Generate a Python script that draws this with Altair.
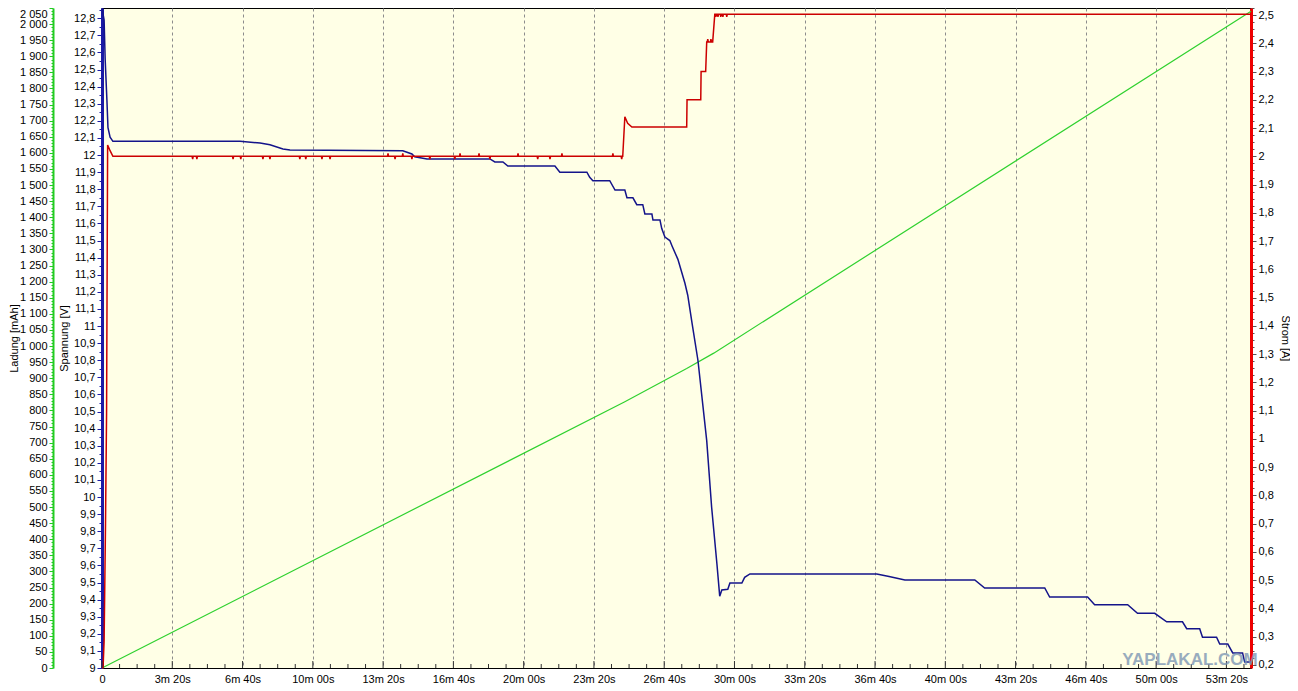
import altair as alt
import pandas as pd

FONT = "Liberation Sans"

# ---- Spannung (blue), time in seconds ----
volt_t = [0, 6, 9, 14, 17, 23, 31, 393, 450, 478, 515, 535, 856, 882, 890, 925,
          1104, 1118, 1141, 1155, 1289, 1303, 1380, 1388, 1397, 1445, 1460, 1488,
          1494, 1511, 1522, 1539, 1545, 1565, 1568, 1588, 1593, 1602, 1616, 1622,
          1639, 1659, 1667, 1679, 1696, 1721, 1735, 1750, 1758, 1764, 1781, 1787,
          1821, 1829, 1844, 2205, 2240, 2285, 2484, 2512, 2683, 2697, 2805, 2825,
          2919, 2947, 2996, 3030, 3075, 3087, 3124, 3132, 3172, 3181, 3204, 3218,
          3246, 3252, 3270]
volt_v = [12.86, 12.79, 12.56, 12.32, 12.16, 12.105, 12.08, 12.08, 12.07, 12.06,
          12.035, 12.03, 12.025, 12.006, 11.99, 11.977, 11.977, 11.96, 11.96, 11.936,
          11.936, 11.90, 11.90, 11.87, 11.85, 11.85, 11.795, 11.795, 11.75, 11.75,
          11.71, 11.71, 11.655, 11.655, 11.62, 11.62, 11.57, 11.52, 11.50, 11.47,
          11.39, 11.25, 11.18, 11.02, 10.80, 10.33, 9.94, 9.61, 9.42, 9.456, 9.46,
          9.497, 9.497, 9.53, 9.55, 9.55, 9.535, 9.515, 9.515, 9.468, 9.468, 9.415,
          9.415, 9.37, 9.37, 9.32, 9.32, 9.27, 9.27, 9.23, 9.23, 9.18, 9.18, 9.14,
          9.14, 9.088, 9.088, 9.035, 9.035]

# ---- Strom (red) ----
curr_t = [0, 3, 6, 10, 13, 16, 23, 31, 1482, 1488, 1496, 1508, 1664, 1665, 1704,
          1705, 1718, 1721, 1738, 1744, 3270]
curr_a = [0.189, 0.19, 0.284, 0.70, 1.09, 2.04, 2.02, 2.0, 2.0, 2.14, 2.117, 2.104,
          2.104, 2.20, 2.20, 2.30, 2.30, 2.405, 2.405, 2.503, 2.503]
# small noise spikes on the current trace
spike_t = [258, 270, 373, 395, 458, 478, 563, 580, 626, 649, 814, 834, 856, 882,
           933, 1004, 1019, 1073, 1104, 1184, 1240, 1275, 1309, 1454, 1479, 1724,
           1733, 1747, 1753, 1761, 1767, 1778]
spike_a = [1.99, 1.99, 1.99, 1.99, 1.99, 1.99, 1.99, 1.99, 1.99, 1.99, 2.01, 1.99,
           2.01, 1.99, 1.99, 1.99, 2.01, 2.01, 1.99, 2.01, 1.99, 1.99, 2.01, 2.01,
           1.99, 2.415, 2.415, 2.494, 2.494, 2.494, 2.494, 2.494]

# ---- Ladung (green) ----
charge_t = [0, 1488, 1664, 1741, 3270]
charge_q = [0, 827, 930, 978, 2040]

X_MAX = 3270

# ---- build tables ----
volt_df = pd.DataFrame({"t": volt_t, "v": volt_v})
charge_df = pd.DataFrame({"t": charge_t, "q": charge_q})


def base_level(t):
    lvl = curr_a[0]
    for ct, ca in zip(curr_t, curr_a):
        if ct <= t:
            lvl = ca
    return lvl


red_pts = list(zip(curr_t, curr_a))
for st, sa in zip(spike_t, spike_a):
    b = base_level(st)
    red_pts += [(st - 1.5, b), (st, sa), (st + 1.5, b)]
red_pts.sort()
curr_df = pd.DataFrame(red_pts, columns=["t", "a"])

x_major = list(range(0, X_MAX, 200))
x_minor = [t for t in range(0, X_MAX, 50) if t % 200]
tick_major_df = pd.DataFrame({"t": x_major})
tick_minor_df = pd.DataFrame({"t": x_minor})

lad_values = list(range(0, 2051, 10))
sp_values = [round(9 + 0.05 * i, 2) for i in range(0, 78)]
st_values = [round(0.2 + 0.025 * i, 3) for i in range(0, 94)]

xscale = alt.Scale(domain=[0, X_MAX], nice=False, zero=False)
xaxis = alt.Axis(
    values=x_major, title=None, ticks=False, grid=True, gridDash=[3, 3],
    gridColor="#8c8c8c", gridWidth=1, domainColor="black", domainWidth=1,
    labelExpr=("datum.value == 0 ? '0' : floor(datum.value/60) + 'm ' + "
               "(datum.value % 60 < 10 ? '0' : '') + (datum.value % 60) + 's'"),
    labelFont=FONT, labelFontSize=11, labelColor="black", labelPadding=5,
    labelFlush=False, labelOverlap=False,
)
X = alt.X("t:Q", scale=xscale, axis=xaxis)

lad_major = "datum.value % 50 === 0"
dec_major = "abs(datum.value*10 - round(datum.value*10)) < 0.001"

common = dict(labelFont=FONT, labelFontSize=11, labelColor="black",
              titleFont=FONT, titleFontSize=11, titleFontWeight="normal",
              titleColor="black", titleBaseline="middle", labelOverlap=False,
              labelFlush=False, grid=False)

lad_axis = alt.Axis(
    orient="left", offset=49, values=lad_values, title="Ladung [mAh]",
    titleX=-39, domainColor="#22cc22", domainWidth=2, tickColor="#22cc22",
    tickSize={"condition": {"test": lad_major, "value": 4}, "value": 2},
    labelBaseline={"condition": {"test": "datum.value >= 2050", "value": "top"},
                   "value": "middle"},
    labelExpr=f"{lad_major} ? replace(format(datum.value, ','), ',', ' ') : ''",
    labelPadding=2, **common)

sp_axis = alt.Axis(
    orient="left", offset=0, values=sp_values, title="Spannung [V]",
    titleX=-38, domainColor="#1a1aa6", domainWidth=3, tickColor="#1a1aa6",
    tickSize={"condition": {"test": dec_major, "value": 5}, "value": 3},
    labelExpr=f"{dec_major} ? replace(format(datum.value, '.1~f'), '.', ',') : ''",
    labelPadding=2, **common)

st_axis = alt.Axis(
    orient="right", offset=0, values=st_values, title="Strom [A]",
    titleX=33, domainColor="#ee0000", domainWidth=3, tickColor="#555555",
    tickSize={"condition": {"test": dec_major, "value": 5}, "value": 3},
    labelExpr=f"{dec_major} ? replace(format(datum.value, '.1~f'), '.', ',') : ''",
    labelPadding=2, **common)

green = alt.Chart(charge_df).mark_line(color="#2fd12f", strokeWidth=1.2).encode(
    x=X, y=alt.Y("q:Q", scale=alt.Scale(domain=[0, 2050], nice=False, zero=False),
                 axis=lad_axis))

blue = alt.Chart(volt_df).mark_line(color="#14148a", strokeWidth=1.5).encode(
    x=X, y=alt.Y("v:Q", scale=alt.Scale(domain=[9, 12.86], nice=False, zero=False),
                 axis=sp_axis))

red = alt.Chart(curr_df).mark_line(color="#cc0000", strokeWidth=1.5).encode(
    x=X, y=alt.Y("a:Q", scale=alt.Scale(domain=[0.189, 2.525], nice=False, zero=False),
                 axis=st_axis))

ticks_major = alt.Chart(tick_major_df).mark_rule(color="#333333", strokeWidth=1).encode(
    x=X, y=alt.value(653), y2=alt.value(660))
ticks_minor = alt.Chart(tick_minor_df).mark_rule(color="#333333", strokeWidth=1).encode(
    x=X, y=alt.value(656), y2=alt.value(660))

watermark = alt.Chart(pd.DataFrame({"w": ["YAPLAKAL.COM"]})).mark_text(
    font=FONT, fontSize=17, fontWeight="bold", color="#7f98b5", opacity=0.8
).encode(text="w:N", x=alt.value(1088), y=alt.value(652))

chart = alt.layer(green, blue, red, ticks_major, ticks_minor, watermark).resolve_scale(
    y="independent"
).properties(
    width=1149, height=660,
    autosize=alt.AutoSizeParams(type="none"),
    padding={"left": 94, "top": 0, "right": 39, "bottom": 15},
    background="white",
).configure_view(fill="#FFFFE6", stroke="black", strokeWidth=1)

chart.save("out.html", embed_options={"renderer": "svg", "actions": False})
